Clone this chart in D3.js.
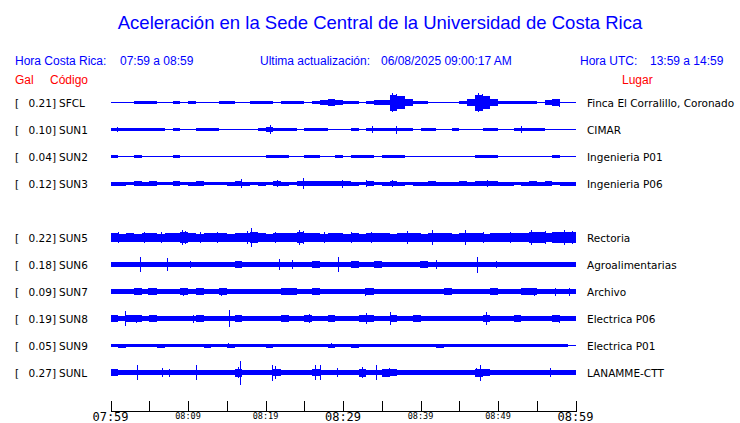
<!DOCTYPE html>
<html>
<head>
<meta charset="utf-8">
<script src="https://cdn.jsdelivr.net/npm/d3@7"></script>
<style>
  body { margin: 0; background: #fff; }
  svg { display: block; }
</style>
</head>
<body>
<svg id="chart" width="740" height="423"></svg>
<script>
// station codes, places and peak acceleration (Gal)
const codes = ["SFCL", "SUN1", "SUN2", "SUN3", "SUN5", "SUN6", "SUN7", "SUN8", "SUN9", "SUNL"];
const places = ["Finca El Corralillo, Coronado", "CIMAR", "Ingenieria P01", "Ingenieria P06", "Rectoria",
  "Agroalimentarias", "Archivo", "Electrica P06", "Electrica P01", "LANAMME-CTT"];
const peaks = [0.21, 0.10, 0.04, 0.12, 0.22, 0.18, 0.09, 0.19, 0.05, 0.27];

// envelope per minute (Gal), minute 0 = 07:59
const envSFCL = [0.02,0.02,0.01,0.03,0.03,0.03,0.02,0.02,0.03,0.01, 0.03,0.02,0.01,0.01,0.03,0.03,0.02,0.02,0.03,0.03,
  0.03,0.02,0.03,0.03,0.03,0.02,0.03,0.06,0.07,0.05, 0.03,0.03,0.01,0.03,0.06,0.06,0.18,0.14,0.08,0.03,
  0.03,0.02,0.01,0.02,0.02,0.03,0.07,0.18,0.14,0.07, 0.03,0.03,0.03,0.03,0.03,0.02,0.06,0.07,0.02,0.01];
const envSUN1 = [0.04,0.04,0.03,0.04,0.04,0.04,0.03,0.02,0.03,0.01, 0.02,0.03,0.03,0.03,0.02,0.01,0.02,0.02,0.02,0.04,
  0.06,0.03,0.03,0.03,0.01,0.03,0.03,0.03,0.02,0.02, 0.02,0.03,0.01,0.04,0.04,0.03,0.04,0.04,0.03,0.01,
  0.03,0.03,0.01,0.01,0.03,0.02,0.02,0.01,0.03,0.03, 0.01,0.01,0.03,0.04,0.04,0.03,0.02,0.02,0.02,0.02];
const envSUN2 = [0.03,0.01,0.01,0.03,0.02,0.01,0.02,0.01,0.03,0.01, 0.02,0.01,0.02,0.01,0.02,0.02,0.01,0.02,0.01,0.02,
  0.03,0.03,0.03,0.01,0.01,0.04,0.03,0.01,0.02,0.03, 0.02,0.03,0.03,0.03,0.01,0.03,0.04,0.03,0.01,0.01,
  0.02,0.01,0.01,0.02,0.01,0.01,0.02,0.03,0.03,0.03, 0.02,0.01,0.02,0.01,0.01,0.02,0.02,0.03,0.02,0.01];
const envSUN3 = [0.045,0.045,0.04,0.05,0.045,0.05,0.04,0.04,0.055,0.04, 0.045,0.05,0.04,0.04,0.04,0.045,0.05,0.045,0.04,0.045,
  0.04,0.055,0.045,0.04,0.055,0.055,0.05,0.055,0.055,0.055, 0.05,0.045,0.04,0.055,0.04,0.045,0.055,0.045,0.04,0.045,
  0.045,0.05,0.045,0.045,0.045,0.05,0.045,0.05,0.055,0.05, 0.045,0.045,0.04,0.045,0.05,0.045,0.05,0.04,0.045,0.045];
const envSUN5 = [0.10,0.09,0.10,0.09,0.10,0.10,0.09,0.10,0.11,0.12, 0.10,0.09,0.10,0.11,0.10,0.09,0.10,0.11,0.12,0.10,
  0.09,0.10,0.10,0.11,0.12,0.10,0.10,0.09,0.10,0.10, 0.09,0.10,0.09,0.10,0.10,0.10,0.09,0.10,0.11,0.10,
  0.09,0.11,0.10,0.10,0.09,0.11,0.10,0.10,0.09,0.10, 0.10,0.10,0.10,0.11,0.12,0.12,0.11,0.12,0.12,0.12];
const envSUN6 = [0.05,0.05,0.05,0.06,0.05,0.05,0.05,0.05,0.05,0.05, 0.06,0.05,0.05,0.05,0.05,0.05,0.07,0.05,0.05,0.05,
  0.05,0.06,0.05,0.05,0.05,0.05,0.07,0.05,0.05,0.06, 0.05,0.07,0.05,0.05,0.07,0.06,0.05,0.05,0.05,0.05,
  0.07,0.05,0.06,0.05,0.05,0.05,0.05,0.05,0.05,0.06, 0.05,0.05,0.05,0.05,0.05,0.05,0.05,0.05,0.06,0.05];
const envSUN7 = [0.05,0.05,0.05,0.07,0.05,0.07,0.05,0.06,0.05,0.07, 0.05,0.07,0.05,0.05,0.07,0.06,0.06,0.05,0.05,0.05,
  0.05,0.05,0.07,0.07,0.05,0.05,0.07,0.05,0.05,0.06, 0.05,0.05,0.05,0.07,0.05,0.05,0.05,0.05,0.05,0.05,
  0.05,0.05,0.05,0.07,0.05,0.05,0.05,0.05,0.06,0.07, 0.05,0.05,0.05,0.07,0.07,0.05,0.05,0.06,0.05,0.06];
const envSUN8 = [0.07,0.06,0.08,0.07,0.06,0.07,0.06,0.06,0.06,0.06, 0.06,0.08,0.06,0.06,0.06,0.06,0.07,0.06,0.06,0.06,
  0.06,0.06,0.07,0.06,0.06,0.07,0.06,0.06,0.07,0.06, 0.06,0.06,0.07,0.08,0.06,0.06,0.08,0.06,0.06,0.07,
  0.06,0.06,0.06,0.06,0.06,0.06,0.06,0.06,0.08,0.06, 0.06,0.06,0.07,0.06,0.06,0.06,0.06,0.07,0.06,0.06];
const envSUN9 = [0.035,0.045,0.035,0.035,0.035,0.035,0.045,0.035,0.035,0.035, 0.035,0.035,0.045,0.035,0.035,0.045,0.035,0.035,0.035,0.035,
  0.045,0.035,0.035,0.035,0.035,0.035,0.035,0.035,0.045,0.035, 0.035,0.045,0.035,0.035,0.035,0.035,0.035,0.035,0.035,0.035,
  0.035,0.035,0.045,0.035,0.035,0.035,0.035,0.035,0.035,0.035, 0.035,0.035,0.035,0.035,0.03,0.03,0.03,0.03,0.025,0.015];
const envSUNL = [0.07,0.06,0.06,0.05,0.05,0.05,0.06,0.05,0.05,0.05, 0.05,0.05,0.05,0.05,0.05,0.05,0.09,0.05,0.05,0.05,
  0.05,0.07,0.05,0.05,0.05,0.05,0.08,0.06,0.05,0.05, 0.05,0.05,0.09,0.05,0.05,0.09,0.07,0.05,0.05,0.05,
  0.05,0.05,0.05,0.05,0.05,0.05,0.06,0.09,0.08,0.05, 0.05,0.05,0.05,0.05,0.05,0.05,0.06,0.05,0.05,0.05];

// isolated peaks: [minute, Gal]
const spkSFCL = [[28.2,0.06],[36.3,0.21],[36.9,0.19],[37.5,0.15],[47.4,0.21],[47.9,0.19],[48.5,0.14],[57.9,0.09]];
const spkSUN1 = [[0.9,0.05],[20.6,0.10],[33.8,0.07],[36.9,0.09],[53.0,0.07]];
const spkSUN2 = [[25.3,0.04],[36.2,0.04]];
const spkSUN3 = [[16.8,0.10],[21.5,0.07],[24.8,0.12],[29.9,0.09],[33.0,0.07],[36.3,0.08],[48.6,0.07]];
const spkSUN5 = [[1.0,0.13],[4.3,0.13],[6.5,0.12],[9.2,0.16],[9.6,0.14],[11.5,0.13],[13.8,0.12],[17.6,0.14],[18.1,0.22],
  [21.2,0.12],[24.3,0.17],[24.8,0.14],[27.5,0.12],[31.0,0.12],[33.6,0.13],[38.2,0.15],[41.5,0.16],[45.8,0.17],
  [48.0,0.13],[51.5,0.13],[54.2,0.16],[56.0,0.15],[58.5,0.17],[59.5,0.15]];
const spkSUN6 = [[3.8,0.16],[7.3,0.14],[10.3,0.07],[16.3,0.08],[21.8,0.12],[23.4,0.11],[29.3,0.16],[31.4,0.08],
  [34.0,0.07],[40.0,0.08],[42.0,0.11],[47.3,0.18],[49.7,0.07]];
const spkSUN7 = [[4.9,0.08],[9.4,0.09],[11.7,0.08],[14.2,0.09],[26.0,0.08],[32.9,0.09],[54.6,0.09],[57.4,0.09],[59.1,0.09]];
const spkSUN8 = [[1.9,0.16],[3.3,0.09],[10.6,0.09],[15.3,0.19],[25.6,0.11],[33.0,0.12],[36.1,0.15],[48.4,0.15],[57.9,0.09]];
const spkSUN9 = [[15.2,0.05],[28.4,0.05]];
const spkSUNL = [[3.4,0.17],[6.7,0.10],[7.6,0.09],[11.0,0.16],[16.4,0.13],[16.7,0.27],[20.9,0.18],[21.2,0.14],[26.4,0.16],
  [27.0,0.16],[29.2,0.10],[32.5,0.13],[34.2,0.16],[35.9,0.11],[47.2,0.10],[47.7,0.18],[56.7,0.11]];

const envelopes = [envSFCL, envSUN1, envSUN2, envSUN3, envSUN5, envSUN6, envSUN7, envSUN8, envSUN9, envSUNL];
const spikes = [spkSFCL, spkSUN1, spkSUN2, spkSUN3, spkSUN5, spkSUN6, spkSUN7, spkSUN8, spkSUN9, spkSUNL];

// axis
const tickMinutes = [0, 5, 10, 15, 20, 25, 30, 35, 40, 45, 50, 55, 60];
const labelMinutes = [0, 10, 20, 30, 40, 50, 60];
const tickLabels = ["07:59", "08:09", "08:19", "08:29", "08:39", "08:49", "08:59"];
const bigLabels = ["07:59", "08:29", "08:59"];

const blue = "#0000ff";
const svg = d3.select("#chart");

// header
svg.append("text")
  .attr("x", 380).attr("y", 29)
  .attr("text-anchor", "middle")
  .style("font", "18.5px 'Liberation Sans', Arial, sans-serif")
  .style("fill", blue)
  .text("Aceleración en la Sede Central de la Universidad de Costa Rica");

const head = [
  [15, "Hora Costa Rica:"], [120, "07:59 a 08:59"],
  [260, "Ultima actualización:"], [381, "06/08/2025 09:00:17 AM"],
  [580, "Hora UTC:"], [650, "13:59 a 14:59"]
];
svg.selectAll(".head").data(head).enter().append("text")
  .attr("class", "head")
  .attr("x", d => d[0]).attr("y", 65)
  .style("font", "12px 'Liberation Sans', Arial, sans-serif")
  .style("fill", blue)
  .text(d => d[1]);

svg.selectAll(".red").data([[15, "Gal"], [50, "Código"], [622, "Lugar"]]).enter().append("text")
  .attr("class", "red")
  .attr("x", d => d[0]).attr("y", 84)
  .style("font", "12px 'Liberation Sans', Arial, sans-serif")
  .style("fill", "#ff0000")
  .text(d => d[1]);

// scales
var x = d3.scaleLinear().domain([0, 60]).range([110.5, 575.5]);
var row = d3.scaleLinear().domain([0, 10]).range([102.5, 372.5]);
var amp = d3.scaleLinear().domain([0, 0.27]).range([0, 12]);
const slot = i => i < 4 ? i : i + 1;   // empty slot after SUN3

const stations = codes.map((c, i) => ({
  code: c, place: places[i], peak: peaks[i],
  env: envelopes[i], spikes: spikes[i], y: row(slot(i))
}));

const lab = svg.append("g").style("font", "10.5px 'DejaVu Sans', sans-serif").style("fill", "#000");
stations.forEach(s => {
  lab.append("text").attr("x", 15).attr("y", s.y + 4).text("[");
  lab.append("text").attr("x", 56).attr("y", s.y + 4).attr("text-anchor", "end")
    .text(d3.format(".2f")(s.peak) + "]");
  lab.append("text").attr("x", 59).attr("y", s.y + 4).text(s.code);
  lab.append("text").attr("x", 587).attr("y", s.y + 4).text(s.place);
});

// traces
const traces = svg.append("g").attr("shape-rendering", "crispEdges");
stations.forEach(s => {
  const g = traces.append("g");
  const pts = s.env.map((v, m) => [m, v]).concat([[60, s.env[s.env.length - 1]]]);
  const area = d3.area()
    .x(d => x(d[0]))
    .y0(d => s.y - Math.max(0.5, amp(d[1])))
    .y1(d => s.y + Math.max(0.5, amp(d[1])))
    .curve(d3.curveStepAfter);
  g.append("path").attr("d", area(pts)).attr("fill", blue);
  g.selectAll("line").data(s.spikes).enter().append("line")
    .attr("x1", d => Math.round(x(d[0])) + 0.5).attr("x2", d => Math.round(x(d[0])) + 0.5)
    .attr("y1", d => s.y - amp(d[1])).attr("y2", d => s.y + amp(d[1]))
    .attr("stroke", blue).attr("stroke-width", 1.5);
});

// time axis
const axisY = 410.5;
const axis = d3.axisTop(x).tickValues(tickMinutes).tickSize(10).tickSizeOuter(10).tickFormat("");
const ag = svg.append("g").attr("transform", `translate(0,${axisY})`).call(axis);
ag.selectAll("path, line").attr("stroke", "#000").attr("shape-rendering", "crispEdges");

svg.selectAll(".tl").data(labelMinutes).enter().append("text")
  .attr("class", "tl")
  .attr("x", (d, i) => x(d))
  .attr("y", (d, i) => bigLabels.includes(tickLabels[i]) ? 420.5 : 418.5)
  .attr("text-anchor", "middle")
  .style("font-family", "'DejaVu Sans Mono', monospace")
  .style("font-size", (d, i) => bigLabels.includes(tickLabels[i]) ? "12px" : "8.5px")
  .style("fill", "#000")
  .text((d, i) => tickLabels[i]);
</script>
</body>
</html>
